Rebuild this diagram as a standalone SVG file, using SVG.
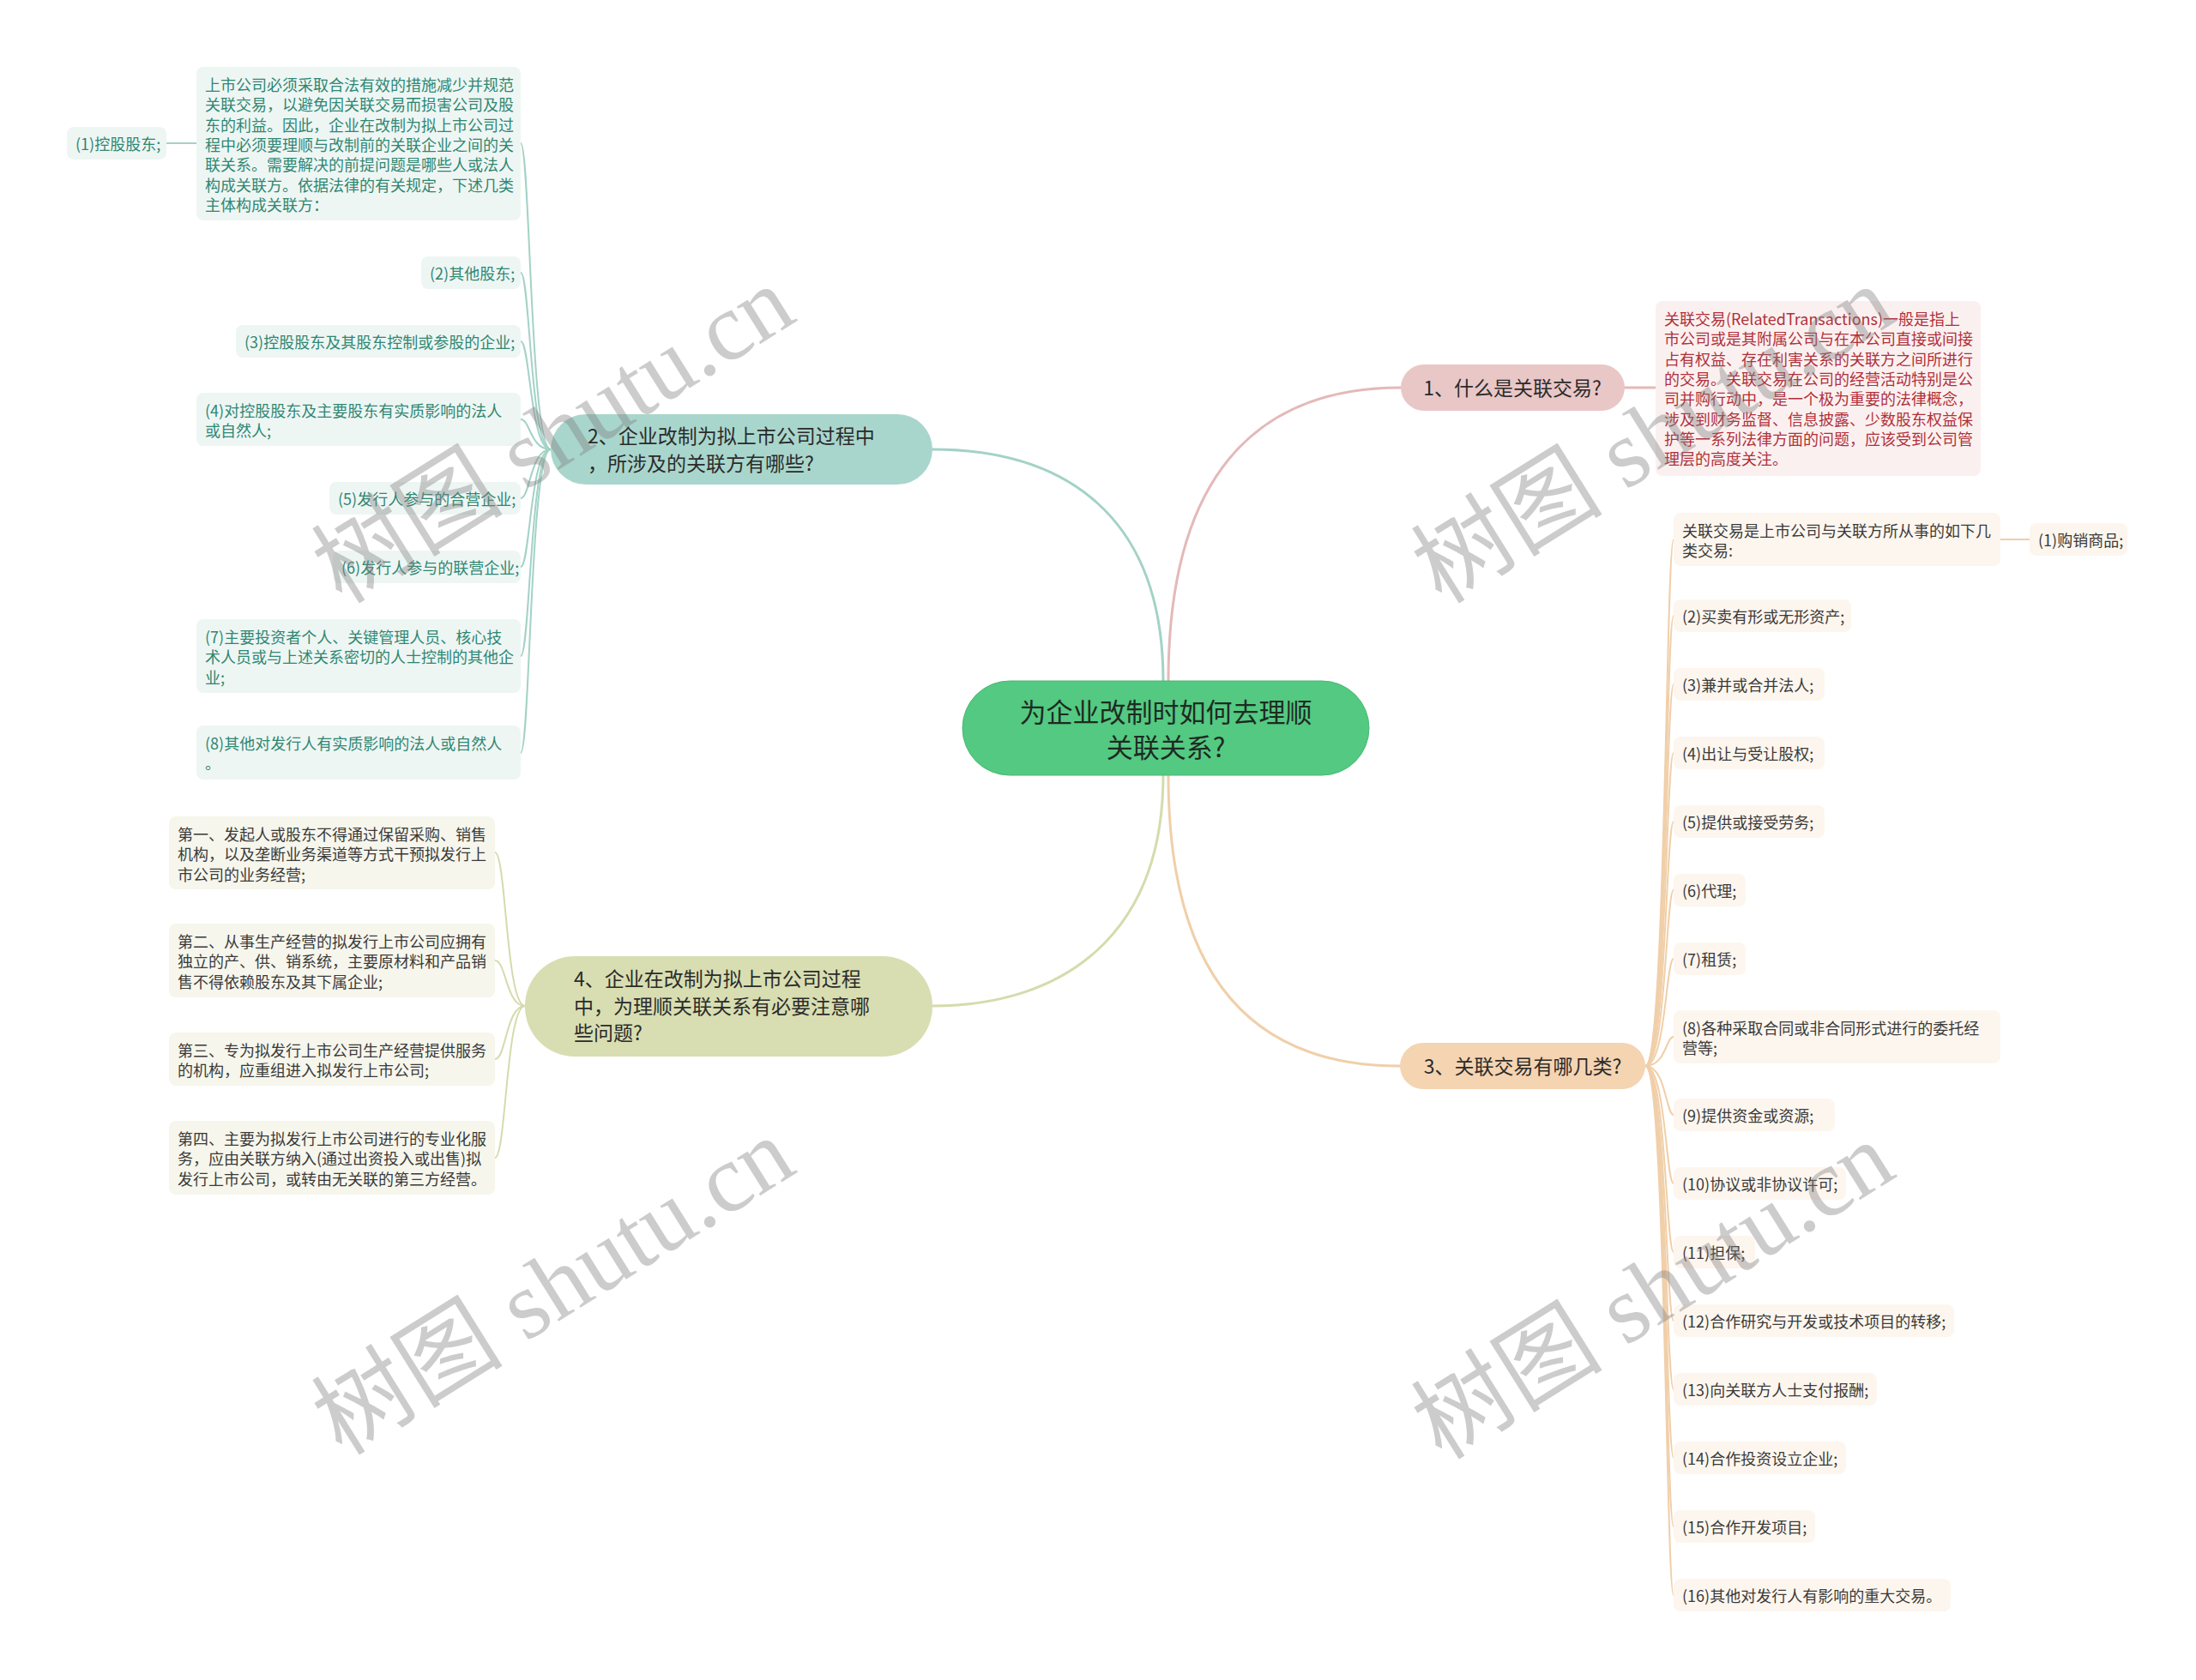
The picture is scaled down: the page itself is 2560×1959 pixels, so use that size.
<svg xmlns="http://www.w3.org/2000/svg" width="2560" height="1959" viewBox="0 0 2560 1959">
<style>
text{font-family:"Noto Sans CJK SC","Liberation Sans",sans-serif;dominant-baseline:central}
.s{font-size:18px}
.m{font-size:23px;fill:#2b2b2b}
.root{font-size:31px;fill:#1e2a22}
.tl{fill:#2f8772}
.rd{fill:#b0303a}
.dk{fill:#3a3a3a}
.c{fill:none;stroke-linecap:round}
.main{stroke-width:3}
.sub{stroke-width:2}
.teal{stroke:#a3d2c6}
.pink{stroke:#e4b9b9}
.peach{stroke:#f0cfa9}
.olive{stroke:#d5dbac}
.bt{fill:#eef6f4}
.bp{fill:#fbf0f0}
.bo{fill:#fdf6ee}
.bg{fill:#f6f6ec}
.wm{font-family:"Liberation Serif","Noto Sans CJK SC",serif;font-size:112px;fill:#808080;fill-opacity:0.4;text-anchor:middle}
</style>
<rect width="2560" height="1959" fill="#ffffff"/>
<g id="connectors">
<path class="c main pink" d="M1362 794 C1362 560 1460 452 1633 452"/>
<path class="c main teal" d="M1356 794 C1356 600 1240 524 1087 524"/>
<path class="c main peach" d="M1362 904 C1362 1140 1460 1243 1632 1243"/>
<path class="c main olive" d="M1356 904 C1356 1090 1240 1173 1087 1173"/>
<path class="c main pink" d="M1894 452 L1930 452"/>
<path class="c sub teal" d="M642 524 C618 524 618 167 607 167"/>
<path class="c sub teal" d="M642 524 C618 524 618 318 607 318"/>
<path class="c sub teal" d="M642 524 C618 524 618 398 607 398"/>
<path class="c sub teal" d="M642 524 C618 524 618 489 607 489"/>
<path class="c sub teal" d="M642 524 C618 524 618 581 607 581"/>
<path class="c sub teal" d="M642 524 C618 524 618 661 607 661"/>
<path class="c sub teal" d="M642 524 C618 524 618 765 607 765"/>
<path class="c sub teal" d="M642 524 C618 524 618 878 607 878"/>
<path class="c sub teal" d="M229 167 L194 167"/>
<path class="c sub olive" d="M612 1173 C590 1173 590 994 577 994"/>
<path class="c sub olive" d="M612 1173 C590 1173 590 1120 577 1120"/>
<path class="c sub olive" d="M612 1173 C590 1173 590 1235 577 1235"/>
<path class="c sub olive" d="M612 1173 C590 1173 590 1350 577 1350"/>
<path class="c sub peach" d="M1918 1243 C1942 1243 1942 629 1951 629"/>
<path class="c sub peach" d="M1918 1243 C1942 1243 1942 718 1951 718"/>
<path class="c sub peach" d="M1918 1243 C1942 1243 1942 798 1951 798"/>
<path class="c sub peach" d="M1918 1243 C1942 1243 1942 878 1951 878"/>
<path class="c sub peach" d="M1918 1243 C1942 1243 1942 958 1951 958"/>
<path class="c sub peach" d="M1918 1243 C1942 1243 1942 1038 1951 1038"/>
<path class="c sub peach" d="M1918 1243 C1942 1243 1942 1118 1951 1118"/>
<path class="c sub peach" d="M1918 1243 C1942 1243 1942 1209 1951 1209"/>
<path class="c sub peach" d="M1918 1243 C1942 1243 1942 1300 1951 1300"/>
<path class="c sub peach" d="M1918 1243 C1942 1243 1942 1380 1951 1380"/>
<path class="c sub peach" d="M1918 1243 C1942 1243 1942 1460 1951 1460"/>
<path class="c sub peach" d="M1918 1243 C1942 1243 1942 1540 1951 1540"/>
<path class="c sub peach" d="M1918 1243 C1942 1243 1942 1620 1951 1620"/>
<path class="c sub peach" d="M1918 1243 C1942 1243 1942 1700 1951 1700"/>
<path class="c sub peach" d="M1918 1243 C1942 1243 1942 1780 1951 1780"/>
<path class="c sub peach" d="M1918 1243 C1942 1243 1942 1860 1951 1860"/>
<path class="c sub peach" d="M2332 629 L2366 629"/>
</g>

<g id="root">
<rect x="1122" y="794" width="474" height="110" rx="55" fill="#53c981" stroke="#4bb874" stroke-width="1"/>
<text class="root" x="1359" y="828" text-anchor="middle">为企业改制时如何去理顺</text>
<text class="root" x="1359" y="869" text-anchor="middle">关联关系?</text>
</g>

<g id="n1">
<rect x="1633" y="425" width="261" height="54" rx="27" fill="#e9c7c7"/>
<text class="m" x="1763" y="451" text-anchor="middle">1、什么是关联交易?</text>
</g>
<g id="n1-1">
<rect class="bp" x="1930" y="351" width="379" height="204" rx="8"/>
<text class="s rd">
<tspan x="1940" y="371">关联交易(RelatedTransactions)一般是指上</tspan>
<tspan x="1940" y="394.3">市公司或是其附属公司与在本公司直接或间接</tspan>
<tspan x="1940" y="417.6">占有权益、存在利害关系的关联方之间所进行</tspan>
<tspan x="1940" y="440.9">的交易。关联交易在公司的经营活动特别是公</tspan>
<tspan x="1940" y="464.2">司并购行动中，是一个极为重要的法律概念，</tspan>
<tspan x="1940" y="487.5">涉及到财务监督、信息披露、少数股东权益保</tspan>
<tspan x="1940" y="510.8">护等一系列法律方面的问题，应该受到公司管</tspan>
<tspan x="1940" y="534.1">理层的高度关注。</tspan>
</text>
</g>

<g id="n2">
<rect x="642" y="483" width="445" height="82" rx="41" fill="#a9d6cc"/>
<text class="m"><tspan x="685" y="507">2、企业改制为拟上市公司过程中</tspan><tspan x="685" y="539">，所涉及的关联方有哪些?</tspan></text>
</g>
<g id="n2-0">
<rect class="bt" x="229" y="78" width="378" height="179" rx="8"/>
<text class="s tl">
<tspan x="239" y="98">上市公司必须采取合法有效的措施减少并规范</tspan>
<tspan x="239" y="121.3">关联交易，以避免因关联交易而损害公司及股</tspan>
<tspan x="239" y="144.6">东的利益。因此，企业在改制为拟上市公司过</tspan>
<tspan x="239" y="167.9">程中必须要理顺与改制前的关联企业之间的关</tspan>
<tspan x="239" y="191.2">联关系。需要解决的前提问题是哪些人或法人</tspan>
<tspan x="239" y="214.5">构成关联方。依据法律的有关规定，下述几类</tspan>
<tspan x="239" y="237.8">主体构成关联方：</tspan>
</text>
</g>
<g id="n2-0-1">
<rect class="bt" x="78" y="148" width="116" height="38" rx="8"/>
<text class="s tl" x="88" y="167">(1)控股股东;</text>
</g>
<g id="n2-2">
<rect class="bt" x="491" y="299" width="116" height="38" rx="8"/>
<text class="s tl" x="501" y="318">(2)其他股东;</text>
</g>
<g id="n2-3">
<rect class="bt" x="275" y="379" width="332" height="38" rx="8"/>
<text class="s tl" x="285" y="398">(3)控股股东及其股东控制或参股的企业;</text>
</g>
<g id="n2-4">
<rect class="bt" x="229" y="458" width="378" height="62" rx="8"/>
<text class="s tl"><tspan x="239" y="478">(4)对控股股东及主要股东有实质影响的法人</tspan><tspan x="239" y="501.3">或自然人;</tspan></text>
</g>
<g id="n2-5">
<rect class="bt" x="384" y="562" width="223" height="38" rx="8"/>
<text class="s tl" x="394" y="581">(5)发行人参与的合营企业;</text>
</g>
<g id="n2-6">
<rect class="bt" x="388" y="642" width="219" height="38" rx="8"/>
<text class="s tl" x="398" y="661">(6)发行人参与的联营企业;</text>
</g>
<g id="n2-7">
<rect class="bt" x="229" y="722" width="378" height="86" rx="8"/>
<text class="s tl"><tspan x="239" y="742">(7)主要投资者个人、关键管理人员、核心技</tspan><tspan x="239" y="765.3">术人员或与上述关系密切的人士控制的其他企</tspan><tspan x="239" y="788.6">业;</tspan></text>
</g>
<g id="n2-8">
<rect class="bt" x="229" y="846" width="378" height="63" rx="8"/>
<text class="s tl"><tspan x="239" y="866">(8)其他对发行人有实质影响的法人或自然人</tspan><tspan x="239" y="889.3">。</tspan></text>
</g>

<g id="n3">
<rect x="1632" y="1216" width="286" height="54" rx="27" fill="#f5d4b2"/>
<text class="m" x="1775" y="1242" text-anchor="middle">3、关联交易有哪几类?</text>
</g>
<g id="n3-0">
<rect class="bo" x="1951" y="598" width="381" height="62" rx="8"/>
<text class="s dk"><tspan x="1961" y="618">关联交易是上市公司与关联方所从事的如下几</tspan><tspan x="1961" y="641.3">类交易:</tspan></text>
</g>
<g id="n3-0-1">
<rect class="bo" x="2366" y="610" width="114" height="38" rx="8"/>
<text class="s dk" x="2376" y="629">(1)购销商品;</text>
</g>
<g id="n3-2"><rect class="bo" x="1951" y="699" width="207" height="38" rx="8"/><text class="s dk" x="1961" y="718">(2)买卖有形或无形资产;</text></g>
<g id="n3-3"><rect class="bo" x="1951" y="779" width="176" height="38" rx="8"/><text class="s dk" x="1961" y="798">(3)兼并或合并法人;</text></g>
<g id="n3-4"><rect class="bo" x="1951" y="859" width="176" height="38" rx="8"/><text class="s dk" x="1961" y="878">(4)出让与受让股权;</text></g>
<g id="n3-5"><rect class="bo" x="1951" y="939" width="176" height="38" rx="8"/><text class="s dk" x="1961" y="958">(5)提供或接受劳务;</text></g>
<g id="n3-6"><rect class="bo" x="1951" y="1019" width="84" height="38" rx="8"/><text class="s dk" x="1961" y="1038">(6)代理;</text></g>
<g id="n3-7"><rect class="bo" x="1951" y="1099" width="84" height="38" rx="8"/><text class="s dk" x="1961" y="1118">(7)租赁;</text></g>
<g id="n3-8"><rect class="bo" x="1951" y="1178" width="381" height="62" rx="8"/><text class="s dk"><tspan x="1961" y="1198">(8)各种采取合同或非合同形式进行的委托经</tspan><tspan x="1961" y="1221.3">营等;</tspan></text></g>
<g id="n3-9"><rect class="bo" x="1951" y="1281" width="188" height="38" rx="8"/><text class="s dk" x="1961" y="1300">(9)提供资金或资源;</text></g>
<g id="n3-10"><rect class="bo" x="1951" y="1361" width="201" height="38" rx="8"/><text class="s dk" x="1961" y="1380">(10)协议或非协议许可;</text></g>
<g id="n3-11"><rect class="bo" x="1951" y="1441" width="95" height="38" rx="8"/><text class="s dk" x="1961" y="1460">(11)担保;</text></g>
<g id="n3-12"><rect class="bo" x="1951" y="1521" width="327" height="38" rx="8"/><text class="s dk" x="1961" y="1540">(12)合作研究与开发或技术项目的转移;</text></g>
<g id="n3-13"><rect class="bo" x="1951" y="1601" width="237" height="38" rx="8"/><text class="s dk" x="1961" y="1620">(13)向关联方人士支付报酬;</text></g>
<g id="n3-14"><rect class="bo" x="1951" y="1681" width="201" height="38" rx="8"/><text class="s dk" x="1961" y="1700">(14)合作投资设立企业;</text></g>
<g id="n3-15"><rect class="bo" x="1951" y="1761" width="165" height="38" rx="8"/><text class="s dk" x="1961" y="1780">(15)合作开发项目;</text></g>
<g id="n3-16"><rect class="bo" x="1951" y="1841" width="323" height="38" rx="8"/><text class="s dk" x="1961" y="1860">(16)其他对发行人有影响的重大交易。</text></g>

<g id="n4">
<rect x="612" y="1115" width="475" height="117" rx="58" fill="#d8deb1"/>
<text class="m"><tspan x="669" y="1140">4、企业在改制为拟上市公司过程</tspan><tspan x="669" y="1172">中，为理顺关联关系有必要注意哪</tspan><tspan x="669" y="1203">些问题?</tspan></text>
</g>
<g id="n4-1">
<rect class="bg" x="197" y="952" width="380" height="85" rx="8"/>
<text class="s dk"><tspan x="207" y="972">第一、发起人或股东不得通过保留采购、销售</tspan><tspan x="207" y="995.3">机构，以及垄断业务渠道等方式干预拟发行上</tspan><tspan x="207" y="1018.6">市公司的业务经营;</tspan></text>
</g>
<g id="n4-2">
<rect class="bg" x="197" y="1077" width="380" height="86" rx="8"/>
<text class="s dk"><tspan x="207" y="1097">第二、从事生产经营的拟发行上市公司应拥有</tspan><tspan x="207" y="1120.3">独立的产、供、销系统，主要原材料和产品销</tspan><tspan x="207" y="1143.6">售不得依赖股东及其下属企业;</tspan></text>
</g>
<g id="n4-3">
<rect class="bg" x="197" y="1204" width="380" height="62" rx="8"/>
<text class="s dk"><tspan x="207" y="1224">第三、专为拟发行上市公司生产经营提供服务</tspan><tspan x="207" y="1247.3">的机构，应重组进入拟发行上市公司;</tspan></text>
</g>
<g id="n4-4">
<rect class="bg" x="197" y="1307" width="380" height="86" rx="8"/>
<text class="s dk"><tspan x="207" y="1327">第四、主要为拟发行上市公司进行的专业化服</tspan><tspan x="207" y="1350.3">务，应由关联方纳入(通过出资投入或出售)拟</tspan><tspan x="207" y="1373.6">发行上市公司，或转由无关联的第三方经营。</tspan></text>
</g>

<g id="watermarks">
<text class="wm" transform="translate(645,507) rotate(-32)">树图 shutu.cn</text>
<text class="wm" transform="translate(1927,507) rotate(-32)">树图 shutu.cn</text>
<text class="wm" transform="translate(645,1500) rotate(-32)">树图 shutu.cn</text>
<text class="wm" transform="translate(1927,1505) rotate(-32)">树图 shutu.cn</text>
</g>
</svg>
